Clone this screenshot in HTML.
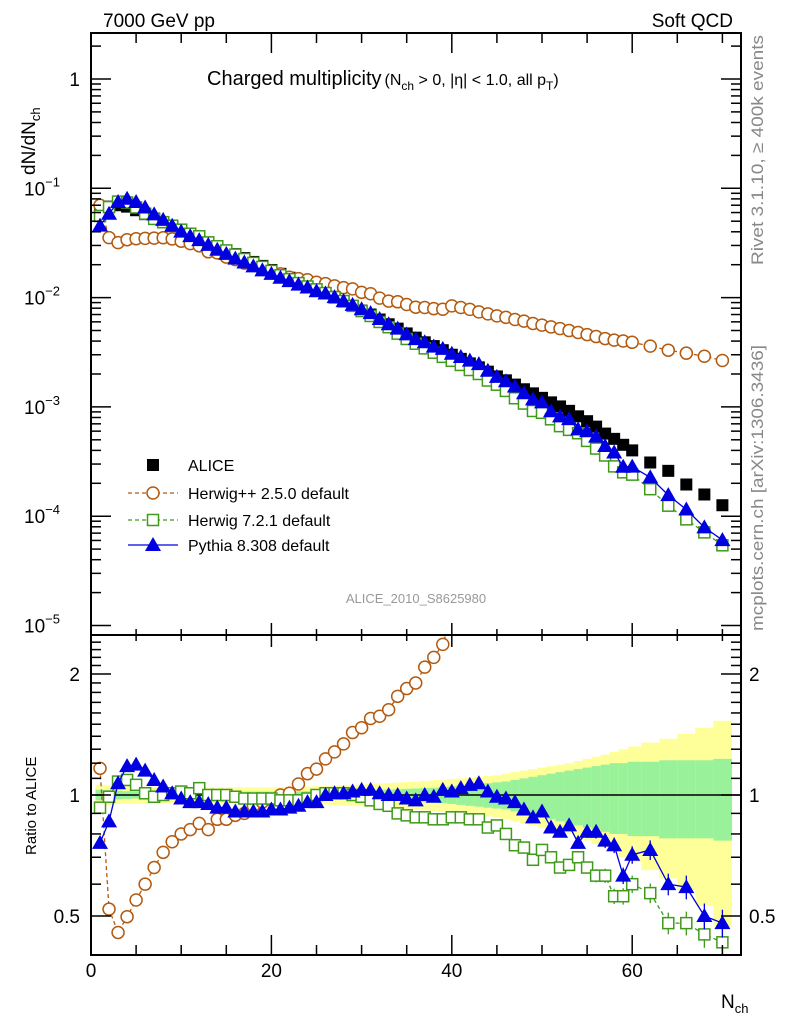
<!DOCTYPE html>
<html><head><meta charset="utf-8"><style>
body{margin:0;background:#fff;}
svg{display:block;font-family:"Liberation Sans",sans-serif;}
</style></head><body>
<svg id="c" width="786" height="1024" viewBox="0 0 786 1024">
<defs>
<clipPath id="mainClip"><rect x="91" y="33" width="650" height="602"/></clipPath>
<clipPath id="ratioClip"><rect x="91" y="635" width="650" height="320"/></clipPath>
</defs>
<g id="bands" clip-path="url(#ratioClip)"></g>
<line x1="91" y1="795" x2="741" y2="795" stroke="#000" stroke-width="1.5"/>
<g id="series"></g>
<g id="axes"></g>
<rect x="91" y="33" width="650" height="602" fill="none" stroke="#000" stroke-width="2"/>
<rect x="91" y="635" width="650" height="320" fill="none" stroke="#000" stroke-width="2"/>
<text x="103" y="27" font-size="19">7000 GeV pp</text>
<text x="733" y="27" font-size="19" text-anchor="end">Soft QCD</text>
<text x="207" y="85" font-size="20">Charged multiplicity<tspan font-size="16" dx="3">(N</tspan><tspan font-size="12" dy="5">ch</tspan><tspan font-size="16" dy="-5"> &gt; 0, |η| &lt; 1.0, all p</tspan><tspan font-size="12" dy="5">T</tspan><tspan font-size="16" dy="-5">)</tspan></text>
<text transform="translate(35,175) rotate(-90)" font-size="19">dN/dN<tspan font-size="13" dy="5">ch</tspan></text>
<text transform="translate(36,855) rotate(-90)" font-size="15">Ratio to ALICE</text>
<text x="721" y="1008" font-size="19">N<tspan font-size="13" dy="5">ch</tspan></text>
<text transform="translate(763,265) rotate(-90)" font-size="17" fill="#888" textLength="230" lengthAdjust="spacingAndGlyphs">Rivet 3.1.10, ≥ 400k events</text>
<text transform="translate(763,631) rotate(-90)" font-size="17" fill="#888" textLength="286" lengthAdjust="spacingAndGlyphs">mcplots.cern.ch [arXiv:1306.3436]</text>
<text x="416" y="603" font-size="13" fill="#999" text-anchor="middle">ALICE_2010_S8625980</text>
<g id="legend">
<g><rect x="147" y="459" width="12" height="12" fill="#000"/><text x="188" y="471" font-size="16">ALICE</text></g>
<g><line x1="128" y1="493" x2="178" y2="493" stroke="#b35a0f" stroke-width="1.3" stroke-dasharray="4,3"/><circle cx="153" cy="493" r="6" fill="#fff" stroke="#b35a0f" stroke-width="1.5"/><text x="188" y="499" font-size="16">Herwig++ 2.5.0 default</text></g>
<g><line x1="128" y1="520" x2="178" y2="520" stroke="#3f9a1a" stroke-width="1.3" stroke-dasharray="4,3"/><rect x="147.5" y="514.5" width="11" height="11" fill="#fff" stroke="#3f9a1a" stroke-width="1.5"/><text x="188" y="526" font-size="16">Herwig 7.2.1 default</text></g>
<g><line x1="128" y1="545" x2="178" y2="545" stroke="#0000e0" stroke-width="1.3"/><polygon points="153,537 161,551 145,551" fill="#0000e0"/><text x="188" y="551" font-size="16">Pythia 8.308 default</text></g>
</g>
</svg>
<script>
const nch=[1,2,3,4,5,6,7,8,9,10,11,12,13,14,15,16,17,18,19,20,21,22,23,24,25,26,27,28,29,30,31,32,33,34,35,36,37,38,39,40,41,42,43,44,45,46,47,48,49,50,51,52,53,54,55,56,57,58,59,60,62,64,66,68,70];
const alice=[0.060,0.068,0.070,0.068,0.063,0.058,0.053,0.049,0.045,0.041,0.038,0.035,0.032,0.0295,0.027,0.025,0.023,0.0212,0.0195,0.0179,0.0165,0.0152,0.014,0.0129,0.0119,0.0109,0.0100,0.0092,0.0084,0.0076,0.0070,0.0063,0.0057,0.0052,0.0047,0.0043,0.0039,0.0036,0.0033,0.0030,0.00275,0.0025,0.0023,0.0021,0.0019,0.00175,0.0016,0.00145,0.00133,0.00121,0.0011,0.00101,0.00092,0.00082,0.00074,0.00066,0.00057,0.00051,0.00045,0.00040,0.00031,0.00026,0.000195,0.000158,0.000126];
const hppRatio=[1.165,0.52,0.455,0.498,0.548,0.60,0.66,0.72,0.765,0.80,0.82,0.85,0.82,0.87,0.87,0.89,0.90,0.94,0.96,0.975,1.0,1.01,1.065,1.13,1.16,1.23,1.28,1.34,1.43,1.47,1.55,1.57,1.63,1.76,1.84,1.90,2.08,2.20,2.37,2.8,2.95,3.12,3.22,3.38,3.58,3.77,3.94,4.2,4.36,4.63,4.9,5.15,5.43,5.85,6.2,6.67,7.4,8.0,8.9,9.75,11.6,12.7,15.9,18.4,21.1];
const h7Ratio=[0.93,0.99,1.08,1.09,1.06,1.01,0.99,1.0,1.01,1.02,1.01,1.04,1.0,1.0,1.0,0.99,0.98,0.98,0.98,0.98,0.97,0.97,0.97,0.98,1.0,1.01,1.01,1.01,1.0,0.99,0.97,0.95,0.94,0.90,0.89,0.88,0.88,0.87,0.87,0.88,0.88,0.87,0.87,0.83,0.84,0.80,0.75,0.74,0.69,0.73,0.70,0.66,0.67,0.70,0.66,0.63,0.63,0.56,0.56,0.60,0.57,0.48,0.48,0.45,0.43];
const pyRatio=[0.76,0.86,1.07,1.18,1.19,1.15,1.09,1.05,1.01,0.98,0.96,0.96,0.95,0.93,0.93,0.91,0.91,0.91,0.91,0.92,0.92,0.93,0.94,0.96,0.96,1.0,1.01,1.01,1.02,1.03,1.03,1.01,1.0,1.0,0.98,0.97,1.0,0.99,1.03,1.02,1.04,1.06,1.07,1.02,0.99,0.98,0.96,0.92,0.88,0.91,0.83,0.81,0.84,0.76,0.81,0.81,0.77,0.75,0.63,0.71,0.73,0.60,0.59,0.50,0.48];
const yellowUnc=[.06,.055,.05,.05,.05,.048,.046,.045,.045,.045,.045,.045,.045,.045,.045,.045,.045,.045,.045,.045,.046,.047,.048,.05,.052,.054,.056,.058,.06,.062,.065,.068,.071,.074,.077,.08,.084,.088,.092,.096,.10,.105,.11,.115,.12,.13,.14,.15,.16,.17,.18,.19,.2,.215,.23,.245,.26,.28,.30,.32,.35,.38,.42,.47,.53];
const greenUnc=[.03,.028,.025,.022,.02,.02,.02,.02,.02,.02,.02,.02,.02,.02,.02,.02,.02,.02,.02,.02,.02,.02,.021,.022,.023,.024,.025,.026,.027,.028,.03,.031,.032,.034,.036,.038,.04,.042,.045,.05,.055,.06,.065,.07,.075,.08,.09,.1,.11,.12,.13,.14,.15,.16,.17,.18,.19,.2,.2,.21,.21,.22,.22,.22,.23];
const mainTicks=[1,0.1,0.01,0.001,0.0001,0.00001];
const mainTickExp=["","−1","−2","−3","−4","−5"];
const ratioTicks=[2,1,0.5];
const ratioTickLabels=["2","1","0.5"];
const xTicks=[0,20,40,60];

const NS="http://www.w3.org/2000/svg";
const X=n=>91+n*9.02;
const YM=v=>79-109.3*Math.log10(v);
const YR=r=>795-121*Math.log2(r);
function mk(tag,attrs,parent){const e=document.createElementNS(NS,tag);for(const k in attrs)e.setAttribute(k,attrs[k]);parent.appendChild(e);return e;}
const bands=document.getElementById('bands'),series=document.getElementById('series'),axes=document.getElementById('axes');

// bin edges derived from bin centres
const edges=[nch[0]-0.5];
for(let i=1;i<nch.length;i++){const d=nch[i]-nch[i-1];edges.push(nch[i]-d/2);}
edges.push(nch[nch.length-1]+(nch[nch.length-1]-nch[nch.length-2])/2);

nch.forEach((n,i)=>{
  const x0=X(edges[i]),x1=X(edges[i+1]);
  const y=mk('rect',{x:x0,y:YR(1+yellowUnc[i]),width:x1-x0+0.6,height:YR(1-yellowUnc[i])-YR(1+yellowUnc[i]),fill:'#ffff99'},bands);
  
  
  const g=mk('rect',{x:x0,y:YR(1+greenUnc[i]),width:x1-x0+0.6,height:YR(1-greenUnc[i])-YR(1+greenUnc[i]),fill:'#99f299'},bands);
  
  
});

function marker(type,cx,cy,color,parent){
  let e;
  if(type==='circle')e=mk('circle',{cx,cy,r:6,fill:'#fff',stroke:color,'stroke-width':1.5},parent);
  else if(type==='osq')e=mk('rect',{x:cx-5.5,y:cy-5.5,width:11,height:11,fill:'#fff',stroke:color,'stroke-width':1.5},parent);
  else if(type==='fsq')e=mk('rect',{x:cx-6,y:cy-6,width:12,height:12,fill:color},parent);
  else e=mk('polygon',{points:`${cx},${cy-8} ${cx+8},${cy+6} ${cx-8},${cy+6}`,fill:color},parent);
  return e;
}
function drawSeries(name,ratios,type,color,dash){
  const gm=mk('g',{'clip-path':'url(#mainClip)'},series);
  
  
  const gr=mk('g',{'clip-path':'url(#ratioClip)'},series);
  
  
  const pm=nch.map((n,i)=>X(n)+','+YM(alice[i]*ratios[i])).join(' ');
  const pr=nch.map((n,i)=>X(n)+','+YR(ratios[i])).join(' ');
  const la={fill:'none',stroke:color,'stroke-width':1.3};if(dash)la['stroke-dasharray']=dash;
  mk('polyline',Object.assign({points:pm},la),gm);
  mk('polyline',Object.assign({points:pr},la),gr);
  nch.forEach((n,i)=>{
    if(n>=50&&type!=='circle'){
      const e=0.02+0.06*(n-50)/20;
      mk('line',{x1:X(n),x2:X(n),y1:YR(ratios[i]*(1+e)),y2:YR(ratios[i]*(1-e)),stroke:color,'stroke-width':1.3},gr);
    }
    const m1=marker(type,X(n),YM(alice[i]*ratios[i]),color,gm);
    
    
    const m2=marker(type,X(n),YR(ratios[i]),color,gr);
    
    
  });
}
const ga=mk('g',{'clip-path':'url(#mainClip)'},series);


nch.forEach((n,i)=>{const m=marker('fsq',X(n),YM(alice[i]),'#000',ga);
  
  });
drawSeries('herwigpp',hppRatio,'circle','#b35a0f','4,3');
drawSeries('herwig7',h7Ratio,'osq','#3f9a1a','4,3');
drawSeries('pythia',pyRatio,'tri','#0000e0',null);

const tk=(x1,y1,x2,y2)=>mk('line',{x1,y1,x2,y2,stroke:'#000','stroke-width':1.5},axes);
mainTicks.forEach((v,i)=>{
  const y=YM(v);
  tk(91,y,111,y);tk(741,y,721,y);
  if(i<mainTicks.length-1)for(let k=2;k<10;k++){const yy=YM(v*k/10);tk(91,yy,101,yy);tk(741,yy,731,yy);}
  const t=mk('text',{x:80,y:y+7,'font-size':19,'text-anchor':'end'},axes);
  
  
  if(mainTickExp[i]===""){t.textContent="1";}
  else{t.setAttribute('x',60);t.textContent="10";const s=document.createElementNS(NS,'tspan');s.setAttribute('font-size','13');s.setAttribute('dy','-9');s.textContent=mainTickExp[i];t.appendChild(s);}
});
for(let k=2;k<10;k++){const yy=YM(k);if(yy>33){tk(91,yy,101,yy);tk(741,yy,731,yy);}}
[0.4,0.6,0.7,0.8,0.9,1.1,1.2,1.3,1.4,1.5,1.6,1.7,1.8,1.9,2.1,2.2,2.3,2.4].forEach(r=>{const y=YR(r);if(y>636&&y<954){tk(91,y,101,y);tk(741,y,731,y);}});
ratioTicks.forEach((r,i)=>{
  const y=YR(r);tk(91,y,111,y);tk(741,y,721,y);
  const t=mk('text',{x:80,y:y+7,'font-size':19,'text-anchor':'end'},axes);t.textContent=ratioTickLabels[i];
  
  
  const t2=mk('text',{x:749,y:y+7,'font-size':19},axes);t2.textContent=ratioTickLabels[i];
  
  
});
for(let n=0;n<=70;n+=5){const x=X(n);const big=n%20===0;
  tk(x,955,x,955-(big?20:10));tk(x,33,x,33+(big?20:10));tk(x,635,x,635-(big?12:6));tk(x,635,x,635+(big?12:6));}
xTicks.forEach(n=>{const t=mk('text',{x:X(n),y:977,'font-size':19,'text-anchor':'middle'},axes);t.textContent=String(n);
  
  });
</script>
</body></html>
